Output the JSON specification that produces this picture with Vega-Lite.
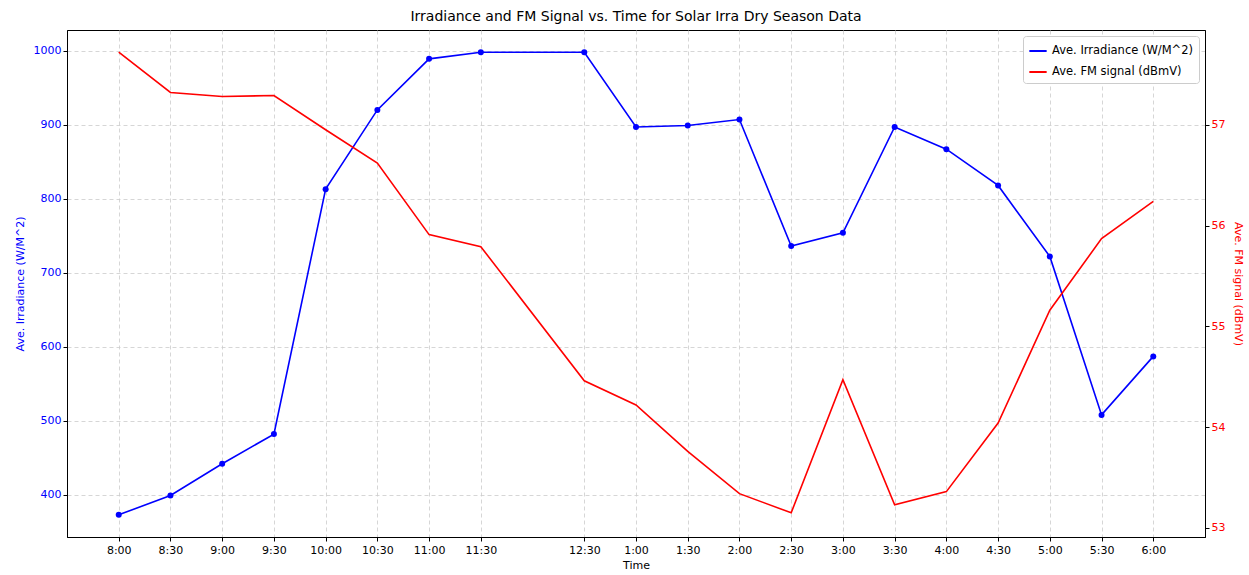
{
  "$schema": "https://vega.github.io/schema/vega-lite/v6.json",
  "width": 1138,
  "height": 507,
  "autosize": {"type": "none"},
  "padding": {"left": 67, "top": 30, "right": 44, "bottom": 38},
  "background": "white",
  "title": {"text": "Irradiance and FM Signal vs. Time for Solar Irra Dry Season Data", "font": "DejaVu Sans", "fontSize": 14, "fontWeight": "normal", "color": "black", "offset": 6},
  "config": {
    "font": "DejaVu Sans",
    "view": {"stroke": "black", "strokeWidth": 1},
    "axis": {"labelFont": "DejaVu Sans", "titleFont": "DejaVu Sans", "labelFontSize": 11, "titleFontSize": 11, "titleFontWeight": "normal", "tickColor": "black", "domainColor": "black", "gridColor": "#cccccc", "gridDash": [4, 3], "gridWidth": 0.8}
  },
  "data": {"values": [
    {"t": 8, "irr": 373, "fm": 57.72},
    {"t": 8.5, "irr": 399, "fm": 57.32},
    {"t": 9, "irr": 442, "fm": 57.28},
    {"t": 9.5, "irr": 482, "fm": 57.29},
    {"t": 10, "irr": 813, "fm": 56.95},
    {"t": 10.5, "irr": 920, "fm": 56.62},
    {"t": 11, "irr": 989, "fm": 55.91},
    {"t": 11.5, "irr": 998, "fm": 55.79},
    {"t": 12.5, "irr": 998, "fm": 54.46},
    {"t": 13, "irr": 897, "fm": 54.22},
    {"t": 13.5, "irr": 899, "fm": 53.76},
    {"t": 14, "irr": 907, "fm": 53.34},
    {"t": 14.5, "irr": 736, "fm": 53.15},
    {"t": 15, "irr": 754, "fm": 54.47},
    {"t": 15.5, "irr": 897, "fm": 53.23},
    {"t": 16, "irr": 867, "fm": 53.36},
    {"t": 16.5, "irr": 818, "fm": 54.04},
    {"t": 17, "irr": 722, "fm": 55.16},
    {"t": 17.5, "irr": 508, "fm": 55.87},
    {"t": 18, "irr": 587, "fm": 56.24}
  ]},
  "encoding": {
    "x": {"field": "t", "type": "quantitative", "scale": {"domain": [7.5, 18.5], "nice": false, "zero": false},
      "axis": {"title": "Time", "titleColor": "black", "labelColor": "black", "values": [8, 8.5, 9, 9.5, 10, 10.5, 11, 11.5, 12.5, 13, 13.5, 14, 14.5, 15, 15.5, 16, 16.5, 17, 17.5, 18],
        "labelExpr": "(datum.value >= 13 ? floor(datum.value) - 12 : floor(datum.value)) + ':' + (datum.value % 1 == 0.5 ? '30' : '00')",
        "grid": true, "tickSize": 4, "labelPadding": 3, "titlePadding": 4, "labelFlush": false}}
  },
  "layer": [
    {
      "mark": {"type": "line", "strokeWidth": 1.6, "point": {"filled": true, "size": 36, "color": "blue"}},
      "encoding": {
        "y": {"field": "irr", "type": "quantitative", "scale": {"domain": [343, 1028], "nice": false, "zero": false},
          "axis": {"title": "Ave. Irradiance (W/M^2)", "titleColor": "blue", "labelColor": "blue", "format": "d", "values": [400, 500, 600, 700, 800, 900, 1000], "grid": true, "tickSize": 4, "titlePadding": 8}},
        "color": {"datum": "Ave. Irradiance (W/M^2)", "type": "nominal"}
      }
    },
    {
      "mark": {"type": "line", "strokeWidth": 1.6},
      "encoding": {
        "y": {"field": "fm", "type": "quantitative", "scale": {"domain": [52.91, 57.94], "nice": false, "zero": false},
          "axis": {"orient": "right", "title": "Ave. FM signal (dBmV)", "titleColor": "red", "labelColor": "red", "values": [53, 54, 55, 56, 57], "grid": false, "tickSize": 4, "titlePadding": 8}},
        "color": {"datum": "Ave. FM signal (dBmV)", "type": "nominal",
          "scale": {"domain": ["Ave. Irradiance (W/M^2)", "Ave. FM signal (dBmV)"], "range": ["blue", "red"]},
          "legend": {"title": null, "orient": "top-right", "offset": 6, "symbolType": "stroke", "symbolStrokeWidth": 2, "symbolSize": 300, "labelFontSize": 11.5, "labelFont": "DejaVu Sans", "fillColor": "white", "strokeColor": "#cccccc", "padding": 5, "cornerRadius": 3, "rowPadding": 5}}
      }
    }
  ],
  "resolve": {"scale": {"y": "independent"}}
}
